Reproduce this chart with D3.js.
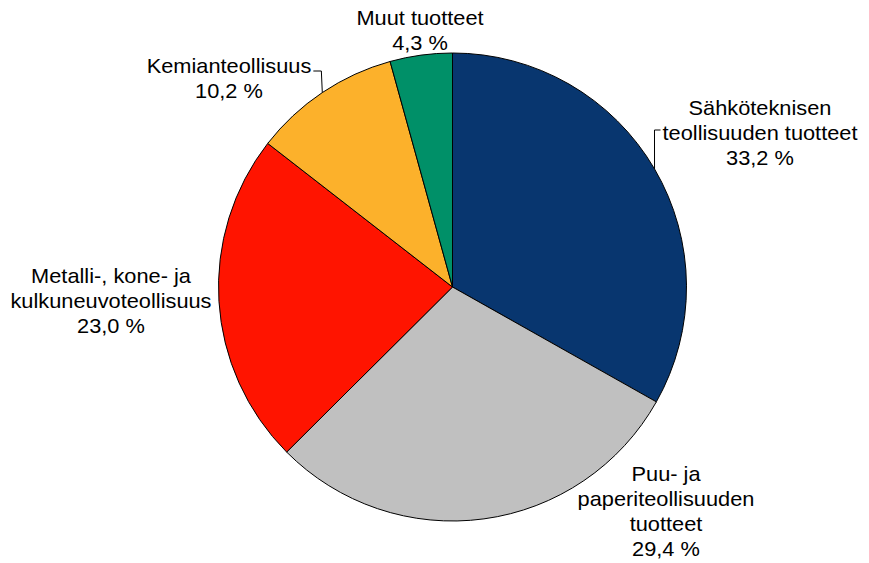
<!DOCTYPE html>
<html>
<head>
<meta charset="utf-8">
<script src="https://cdn.jsdelivr.net/npm/d3@7/dist/d3.min.js"></script>
<style>
  html, body { margin: 0; padding: 0; background: #ffffff; }
  svg text { font-family: "Liberation Sans", Arial, Helvetica, sans-serif; fill: #000; }
</style>
</head>
<body>
<svg id="chart" width="869" height="563"></svg>
<script>
// Shares of industry output, clockwise from 12 o'clock
const categories = [
  ["Sähköteknisen", "teollisuuden tuotteet"],
  ["Puu- ja", "paperiteollisuuden", "tuotteet"],
  ["Metalli-, kone- ja", "kulkuneuvoteollisuus"],
  ["Kemianteollisuus"],
  ["Muut tuotteet"]
];
const shares = [33.2, 29.4, 23.0, 10.2, 4.3];
const colors = ["#08366f", "#c0c0c0", "#ff1400", "#fcb12b", "#009068"];

// Label placement: centre x, first baseline y, and whether a leader line is drawn
const labelLayout = [
  { x: 760, y: 115, leader: true,  side: "left"  },
  { x: 666, y: 481, leader: false },
  { x: 111, y: 283, leader: false },
  { x: 229, y: 73,  leader: true,  side: "right" },
  { x: 420, y: 25,  leader: false }
];

const cx = 452.5, cy = 287, radius = 234;
const lineHeight = 25;
const fontSize = 20;
const stretch = 1.09;

const fi = d3.formatLocale({ decimal: ",", thousands: "\u00a0", grouping: [3], currency: ["", " €"] });
const fmt = fi.format(".1f");

const svg = d3.select("#chart");
const g = svg.append("g").attr("transform", `translate(${cx},${cy})`);

const pie = d3.pie().sort(null).value(d => d)
  .startAngle(0).endAngle(2 * Math.PI);
const arcs = pie(shares);
const arc = d3.arc().innerRadius(0).outerRadius(radius);

g.selectAll("path.slice")
  .data(arcs)
  .join("path")
  .attr("class", "slice")
  .attr("d", arc)
  .attr("fill", (d, i) => colors[i])
  .attr("stroke", "#000")
  .attr("stroke-width", 1)
  .attr("stroke-linejoin", "round");

// Labels
const labels = svg.selectAll("g.label")
  .data(arcs)
  .join("g")
  .attr("class", "label")
  .attr("transform", (d, i) => `translate(${labelLayout[i].x},${labelLayout[i].y}) scale(${stretch},1)`);

labels.each(function (d, i) {
  const lines = categories[i].concat([fmt(shares[i]) + "\u00a0%"]);
  d3.select(this).selectAll("text")
    .data(lines)
    .join("text")
    .attr("x", 0)
    .attr("y", (t, k) => k * lineHeight)
    .attr("text-anchor", "middle")
    .attr("font-size", fontSize)
    .text(t => t);
});

// Leader lines from slice mid-angle on the rim to the label's side
const leaders = svg.append("g").attr("fill", "none").attr("stroke", "#000").attr("stroke-width", 1);
labels.each(function (d, i) {
  const L = labelLayout[i];
  if (!L.leader) return;
  const mid = (d.startAngle + d.endAngle) / 2;
  const px = cx + radius * Math.sin(mid);
  const py = cy - radius * Math.cos(mid);
  const firstLine = d3.select(this).select("text").node();
  const bb = firstLine.getBBox();
  const nLines = categories[i].length + 1;
  let lx, ly;
  if (L.side === "left") {
    // left edge of the widest line, at the middle line of the label
    let minX = Infinity;
    d3.select(this).selectAll("text").each(function () {
      const b = this.getBBox();
      minX = Math.min(minX, b.x);
    });
    lx = L.x + minX * stretch - 2;
    ly = L.y + lineHeight - 10;
  } else {
    lx = L.x + (bb.x + bb.width) * stretch + 2;
    ly = L.y - 2;
  }
  const hx = L.side === "left" ? lx - 6 : lx + 8;
  leaders.append("path")
    .attr("d", d3.line()([[lx, ly], [hx, ly], [px, py]]));
});
</script>
</body>
</html>
